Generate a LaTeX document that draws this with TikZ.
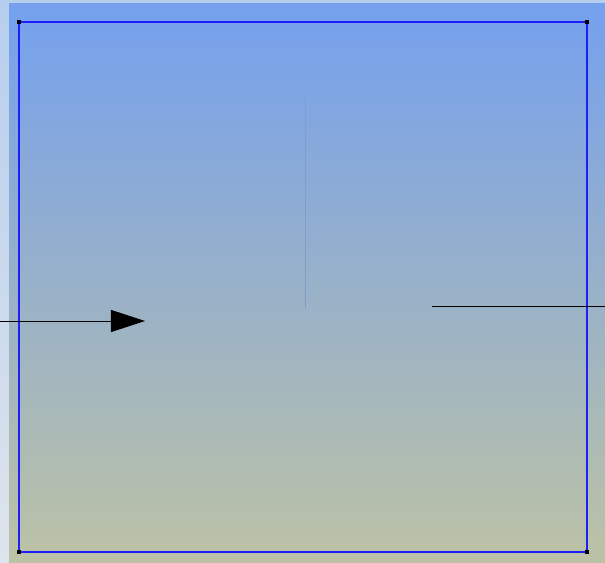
\documentclass[tikz,border=0pt]{standalone}
\usepackage{tikz}
\usetikzlibrary{arrows.meta}

\definecolor{skytop}{RGB}{116,160,238}
\definecolor{skybot}{RGB}{188,194,165}
\definecolor{striptop}{RGB}{182,206,238}
\definecolor{stripbot}{RGB}{222,228,236}
\definecolor{framebl}{RGB}{30,30,250}
\definecolor{faint}{RGB}{128,156,200}

\begin{document}
\begin{tikzpicture}[
  x=0.025cm, y=0.025cm,
  frame/.style={draw=framebl, line width=1.4pt},
  corner/.style={fill=black, inner sep=0pt, minimum size=0.12cm},
  arr/.style={-{Triangle[length=0.85cm, width=0.55cm]}, line width=0.6pt},
  wire/.style={line width=0.6pt}
]
\useasboundingbox (0,0) rectangle (605,563);
% backdrop
\shade[top color=striptop, bottom color=stripbot] (0,0) rectangle (9,563);
\fill[striptop] (9,559) rectangle (605,563);
\shade[top color=skytop, bottom color=skybot] (9,0) rectangle (605,559);

% frame and its corners
\coordinate (nw) at (19,541);
\coordinate (ne) at (587,541);
\coordinate (se) at (587,11);
\coordinate (sw) at (19,11);
\draw[frame] (nw) -- (ne) -- (se) -- (sw) -- cycle;
\foreach \c in {nw,ne,se,sw}
  \node[corner] at (\c) {};

% faint divider
\coordinate (dtop) at (305,466);
\coordinate (dbot) at (305,255);
\draw[faint, line width=0.7pt] (dtop) -- (dbot);

% incoming arrow
\coordinate (in0) at (0,242);
\coordinate (in1) at (145,242);
\draw[arr] (in0) -- (in1);

% outgoing line
\coordinate (out0) at (432,257);
\coordinate (out1) at (605,257);
\draw[wire] (out0) -- (out1);
\end{tikzpicture}
\end{document}
